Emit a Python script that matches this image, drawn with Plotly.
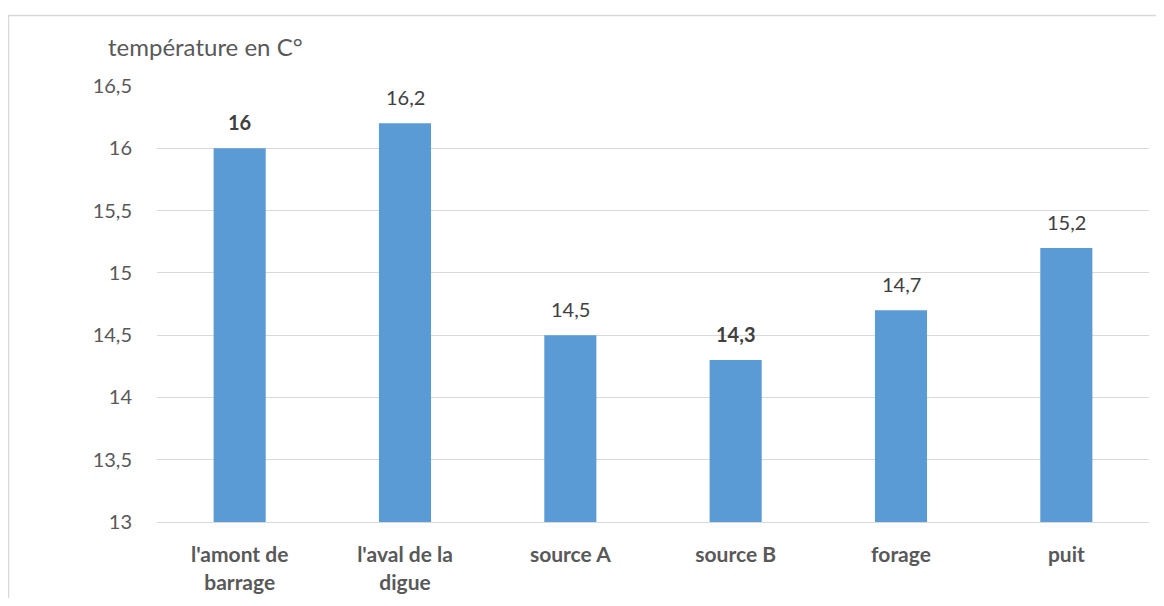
import plotly.graph_objects as go

categories = ["l'amont de<br>barrage", "l'aval de la<br>digue", "source A", "source B", "forage", "puit"]
values = [16.0, 16.2, 14.5, 14.3, 14.7, 15.2]
bold_labels = [True, False, False, True, False, False]
y_ticks = [13, 13.5, 14, 14.5, 15, 15.5, 16, 16.5]
y_tick_labels = ["13", "13,5", "14", "14,5", "15", "15,5", "16", "16,5"]
y_title = "température en C°"

# page is offset by the 8px body margin
OFF = 8
W, H = 1164 - 2 * OFF, 606 - 2 * OFF
L, T = 157 - OFF, 86 - OFF
R = W - (1149 - OFF)
B = H - (522 - OFF)
pw, ph = W - L - R, H - T - B

def px_to_paper_x(px):
    return (px - OFF - L) / pw

def px_to_paper_y(py):
    return (H - B - (py - OFF)) / ph

fig = go.Figure()
fig.add_trace(go.Bar(
    x=categories, y=values,
    marker=dict(color="#5B9BD5", line=dict(width=0)),
    width=0.315,
    hoverinfo="skip",
))

def fmt(v):
    return ("%g" % v).replace(".", ",")

for c, v, b in zip(categories, values, bold_labels):
    t = fmt(v)
    if b:
        t = "<b>" + t + "</b>"
    fig.add_annotation(x=c, y=v, xref="x", yref="y", text=t, showarrow=False,
                       yanchor="bottom", yshift=12,
                       font=dict(family="Lato", size=20, color="#404040"))

fig.add_annotation(x=px_to_paper_x(106), y=px_to_paper_y(46), xref="paper", yref="paper",
                   text=y_title, showarrow=False, xanchor="left", yanchor="middle",
                   font=dict(family="Lato", size=24, color="#595959"))

fig.add_shape(type="rect", xref="paper", yref="paper",
              x0=px_to_paper_x(8.5), x1=px_to_paper_x(1180),
              y0=px_to_paper_y(640), y1=px_to_paper_y(15.5),
              line=dict(color="#D9D9D9", width=1.5), fillcolor="rgba(0,0,0,0)", layer="below")

fig.update_layout(
    width=W, height=H,
    margin=dict(l=L, r=R, t=T, b=B, autoexpand=False),
    paper_bgcolor="white", plot_bgcolor="white",
    showlegend=False,
    separators=", ",
    font=dict(family="Lato", color="#595959"),
)
fig.update_yaxes(range=[13, 16.5], tickvals=y_ticks, ticktext=y_tick_labels,
                 showgrid=True, gridcolor="#D9D9D9", gridwidth=1,
                 zeroline=False, showline=False, automargin=False,
                 tickfont=dict(family="Lato", size=20, color="#595959"),
                 ticklabelstandoff=24)
fig.update_xaxes(showgrid=False, showline=True, linecolor="#D9D9D9", linewidth=1,
                 automargin=False,
                 tickfont=dict(family="Lato", size=21, color="#595959", weight="bold"),
                 ticks="", ticklabelstandoff=14)

fig.write_html("out.html")
